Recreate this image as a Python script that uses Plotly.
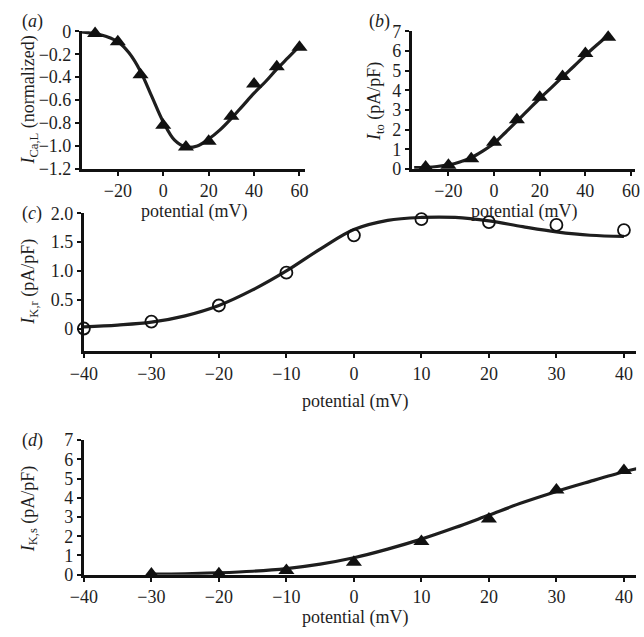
import plotly.graph_objects as go

# ---------------- data ----------------
# (a) I_Ca,L normalized
a_pts_x = [-30, -20, -10, 0, 10, 20, 30, 40, 50, 60]
a_pts_y = [-0.02, -0.09, -0.38, -0.82, -1.01, -0.96, -0.74, -0.46, -0.31, -0.14]
a_fit_x = [-36, -30, -25, -20, -15, -10, -5, 0, 5, 10, 15, 20, 25, 30, 35, 40, 45, 50, 55, 60]
a_fit_y = [-0.005, -0.02, -0.045, -0.09, -0.19, -0.35, -0.57, -0.79, -0.95, -1.01, -1.0,
           -0.94, -0.86, -0.76, -0.65, -0.54, -0.44, -0.33, -0.23, -0.13]

# (b) I_to
b_pts_x = [-30, -20, -10, 0, 10, 20, 30, 40, 50]
b_pts_y = [0.1, 0.18, 0.52, 1.35, 2.5, 3.65, 4.7, 5.87, 6.7]
b_fit_x = [-35, -30, -25, -20, -15, -10, -5, 0, 5, 10, 15, 20, 25, 30, 35, 40, 45, 50]
b_fit_y = [0.06, 0.08, 0.12, 0.2, 0.35, 0.57, 0.9, 1.3, 1.85, 2.42, 3.0, 3.58, 4.12,
           4.68, 5.22, 5.78, 6.3, 6.8]

# (c) I_K,r
c_pts_x = [-40, -30, -20, -10, 0, 10, 20, 30, 40]
c_pts_y = [0.0, 0.12, 0.40, 0.97, 1.62, 1.90, 1.85, 1.80, 1.71]
c_fit_x = [-40, -35, -30, -25, -20, -15, -10, -5, 0, 5, 10, 15, 20, 25, 30, 35, 40]
c_fit_y = [0.03, 0.06, 0.11, 0.22, 0.40, 0.67, 1.0, 1.38, 1.72, 1.88, 1.93, 1.93, 1.87,
           1.77, 1.68, 1.62, 1.60]

# (d) I_K,s
d_pts_x = [-30, -20, -10, 0, 10, 20, 30, 40]
d_pts_y = [0.03, 0.05, 0.22, 0.65, 1.72, 2.9, 4.4, 5.42]
d_fit_x = [-30, -25, -20, -15, -10, -5, 0, 5, 10, 15, 20, 25, 30, 35, 40, 42]
d_fit_y = [0.03, 0.05, 0.1, 0.18, 0.32, 0.55, 0.88, 1.33, 1.85, 2.45, 3.1, 3.75, 4.33,
           4.85, 5.35, 5.52]

# tick labels
ab_xticks = [-20, 0, 20, 40, 60]
a_yticks = [0, -0.2, -0.4, -0.6, -0.8, -1.0, -1.2]
a_yticklabels = ["0", "\u22120.2", "\u22120.4", "\u22120.6", "\u22120.8", "\u22121.0", "\u22121.2"]
b_yticks = [0, 1, 2, 3, 4, 5, 6, 7]
cd_xticks = [-40, -30, -20, -10, 0, 10, 20, 30, 40]
c_yticks = [0, 0.5, 1.0, 1.5, 2.0]
c_yticklabels = ["0", "0.5", "1.0", "1.5", "2.0"]
d_yticks = [0, 1, 2, 3, 4, 5, 6, 7]

FONT = "Liberation Serif"
FS = 18
INK = "#1e1e1e"
W, H = 644, 637


def px(x):
    return x / W


def py(y):
    return 1 - y / H


fig = go.Figure()

panels = [
    ("x", "y", a_pts_x, a_pts_y, a_fit_x, a_fit_y, "tri"),
    ("x2", "y2", b_pts_x, b_pts_y, b_fit_x, b_fit_y, "tri"),
    ("x3", "y3", c_pts_x, c_pts_y, c_fit_x, c_fit_y, "circ"),
    ("x4", "y4", d_pts_x, d_pts_y, d_fit_x, d_fit_y, "tri"),
]
for xa, ya, pxs, pys, fxs, fys, kind in panels:
    fig.add_trace(go.Scatter(x=fxs, y=fys, mode="lines", xaxis=xa, yaxis=ya,
                             line=dict(color=INK, width=3.2, shape="spline"),
                             showlegend=False, hoverinfo="skip", cliponaxis=False))
    if kind == "tri":
        marker = dict(symbol="triangle-up", size=14, color="#111111",
                      line=dict(width=0))
    else:
        marker = dict(symbol="circle-open", size=12, color="#111111",
                      line=dict(width=1.8, color="#111111"))
    fig.add_trace(go.Scatter(x=pxs, y=pys, mode="markers", xaxis=xa, yaxis=ya,
                             marker=marker, showlegend=False, cliponaxis=False))

axis_common = dict(showgrid=False, zeroline=False, showline=True, linecolor="#111111",
                   linewidth=3, ticks="outside", ticklen=4, tickwidth=2,
                   tickcolor="#111111", tickfont=dict(family=FONT, size=FS, color=INK),
                   fixedrange=True)

fig.update_layout(
    width=W, height=H,
    margin=dict(l=0, r=0, t=0, b=0),
    paper_bgcolor="white", plot_bgcolor="white",
    font=dict(family=FONT, size=FS, color=INK),
    xaxis=dict(axis_common, domain=[px(70), px(300)], range=[-35.8, 62.5],
               tickvals=ab_xticks, anchor="y"),
    yaxis=dict(axis_common, domain=[py(164), py(22)], range=[-1.2, 0],
               tickvals=a_yticks, ticktext=a_yticklabels, anchor="x"),
    xaxis2=dict(axis_common, domain=[px(410), px(640)], range=[-36, 61.8],
                tickvals=ab_xticks, anchor="y2"),
    yaxis2=dict(axis_common, domain=[py(164), py(22)], range=[0, 7],
                tickvals=b_yticks, anchor="x2"),
    xaxis3=dict(axis_common, domain=[px(72), px(641)], range=[-40, 41.8],
                tickvals=cd_xticks, anchor="y3"),
    yaxis3=dict(axis_common, domain=[py(352), py(210)], range=[-0.39, 2.0],
                tickvals=c_yticks, ticktext=c_yticklabels, anchor="x3"),
    xaxis4=dict(axis_common, domain=[px(72), px(641)], range=[-40, 41.8],
                tickvals=cd_xticks, anchor="y4"),
    yaxis4=dict(axis_common, domain=[py(583), py(444)], range=[0, 7],
                tickvals=d_yticks, anchor="x4"),
)

ann = []
# panel letters
for txt, x, y in [("(<i>a</i>)", 6, 12), ("(<i>b</i>)", 364, 12),
                  ("(<i>c</i>)", 6, 210), ("(<i>d</i>)", 6, 444)]:
    ann.append(dict(text=txt, x=px(x), y=py(y), xref="paper", yref="paper",
                    xanchor="left", yanchor="middle", showarrow=False,
                    font=dict(family=FONT, size=FS, color=INK)))
# x titles
for x, y in [(185, 208), (525, 208), (351, 404), (351, 627)]:
    ann.append(dict(text="potential (mV)", x=px(x), y=py(y), xref="paper", yref="paper",
                    xanchor="center", yanchor="middle", showarrow=False,
                    font=dict(family=FONT, size=FS, color=INK)))
# y titles
for txt, x, y in [("<i>I</i><sub>Ca,L</sub> (normalized)", 16, 93),
                  ("<i>I</i><sub>to</sub> (pA/pF)", 372, 95),
                  ("<i>I</i><sub>K,r</sub> (pA/pF)", 16, 281),
                  ("<i>I</i><sub>K,s</sub> (pA/pF)", 16, 515)]:
    ann.append(dict(text=txt, x=px(x), y=py(y), xref="paper", yref="paper",
                    xanchor="center", yanchor="middle", textangle=-90, showarrow=False,
                    font=dict(family=FONT, size=FS, color=INK)))
fig.update_layout(annotations=ann)

fig.write_html("out.html", config={"displayModeBar": False},
               post_script="document.body.style.margin='0';document.body.style.overflow='hidden';")
